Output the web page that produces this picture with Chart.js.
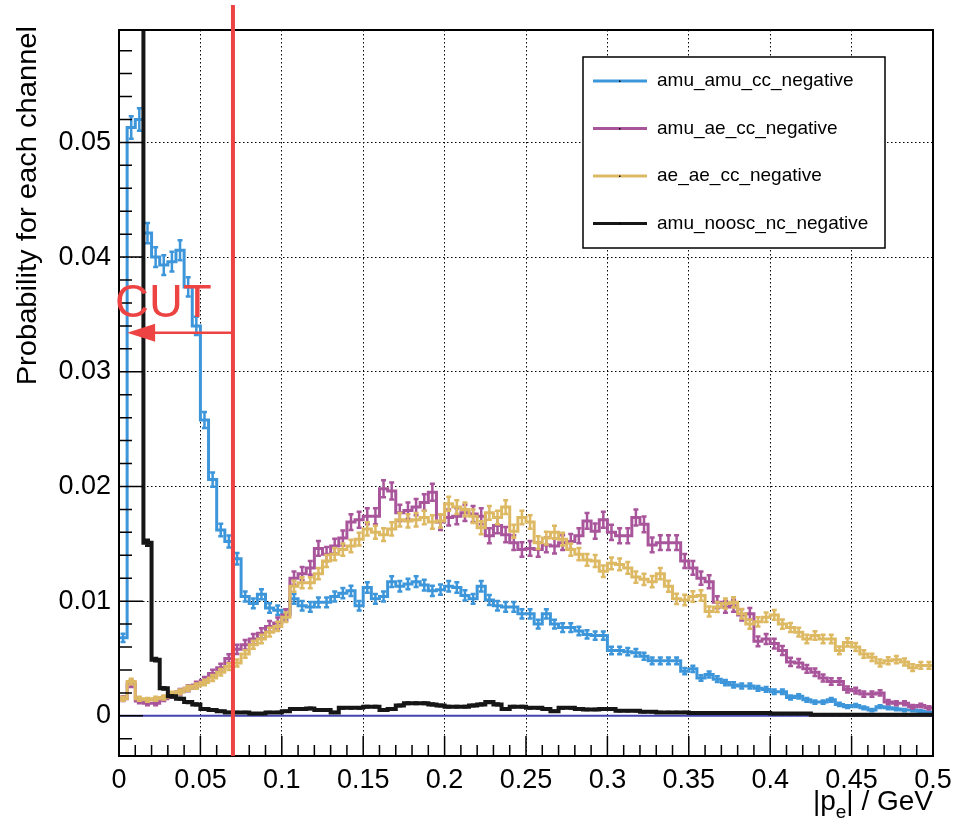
<!DOCTYPE html>
<html>
<head>
<meta charset="utf-8">
<script src="https://cdn.jsdelivr.net/npm/chart.js@4.4.1/dist/chart.umd.min.js"></script>
<style>
  html, body { margin: 0; padding: 0; background: #fff; }
</style>
</head>
<body>
<canvas id="mycanvas" width="968" height="825"></canvas>
<script>
// |p_e| histogram, 100 bins of 0.005 GeV from 0 to 0.5
var binWidth = 0.005;
var channels = ['amu_amu_cc_negative', 'amu_ae_cc_negative', 'ae_ae_cc_negative', 'amu_noosc_nc_negative'];
var channelColors = ['#3e96da', '#a9559b', '#deb964', '#161616'];
// effective event counts, used for the sqrt(N) error bars
var channelEvents = [54000, 36000, 50000, 220000];

var amuAmuCC = [
  0.0068, 0.0513, 0.0520, 0.0421, 0.0400, 0.0393, 0.0396, 0.0406, 0.0374, 0.0340,
  0.0258, 0.0206, 0.0162, 0.0152, 0.0137, 0.0104, 0.0098, 0.0106, 0.0094, 0.0092,
  0.0089, 0.0102, 0.0096, 0.0095, 0.0099, 0.0099, 0.0104, 0.0107, 0.0109, 0.0096,
  0.0112, 0.0102, 0.0104, 0.0117, 0.0113, 0.0115, 0.0117, 0.0114, 0.0109, 0.0110,
  0.0113, 0.0112, 0.0105, 0.0102, 0.0113, 0.0101, 0.0096, 0.0095, 0.0095, 0.0089,
  0.0089, 0.0080, 0.0089, 0.0080, 0.0077, 0.0077, 0.0074, 0.0071, 0.0070, 0.0070,
  0.0057, 0.0057, 0.0056, 0.0055, 0.0052, 0.0048, 0.0048, 0.0048, 0.0048, 0.0039,
  0.0041, 0.0033, 0.0036, 0.0032, 0.0029, 0.0027, 0.0026, 0.0026, 0.0024, 0.0023,
  0.0021, 0.0021, 0.0016, 0.0017, 0.0014, 0.0012, 0.0012, 0.0014, 0.0010, 0.0008,
  0.0009, 0.0007, 0.0005, 0.0008, 0.0007, 0.0006, 0.0005, 0.0005, 0.0004, 0.0003
];
var amuAeCC = [
  0.0015, 0.0028, 0.0013, 0.0011, 0.0011, 0.0015, 0.0018, 0.0021, 0.0024, 0.0027,
  0.0031, 0.0037, 0.0042, 0.0050, 0.0058, 0.0062, 0.0067, 0.0072, 0.0078, 0.0081,
  0.0088, 0.0120, 0.0124, 0.0129, 0.0146, 0.0141, 0.0148, 0.0155, 0.0169, 0.0171,
  0.0174, 0.0174, 0.0198, 0.0196, 0.0177, 0.0179, 0.0182, 0.0186, 0.0195, 0.0169,
  0.0173, 0.0174, 0.0177, 0.0176, 0.0174, 0.0157, 0.0166, 0.0158, 0.0151, 0.0145,
  0.0146, 0.0145, 0.0149, 0.0148, 0.0151, 0.0152, 0.0157, 0.0170, 0.0161, 0.0171,
  0.0160, 0.0157, 0.0157, 0.0173, 0.0167, 0.0149, 0.0151, 0.0151, 0.0151, 0.0135,
  0.0129, 0.0120, 0.0117, 0.0099, 0.0095, 0.0096, 0.0088, 0.0089, 0.0065, 0.0067,
  0.0063, 0.0057, 0.0047, 0.0046, 0.0041, 0.0038, 0.0033, 0.0030, 0.0030, 0.0023,
  0.0022, 0.0019, 0.0019, 0.0020, 0.0012, 0.0011, 0.0011, 0.0008, 0.0009, 0.0007
];
var aeAeCC = [
  0.0015, 0.0030, 0.0015, 0.0014, 0.0015, 0.0016, 0.0019, 0.0021, 0.0024, 0.0026,
  0.0029, 0.0033, 0.0038, 0.0043, 0.0046, 0.0054, 0.0062, 0.0067, 0.0073, 0.0078,
  0.0086, 0.0113, 0.0116, 0.0116, 0.0124, 0.0135, 0.0141, 0.0145, 0.0148, 0.0154,
  0.0163, 0.0160, 0.0158, 0.0163, 0.0171, 0.0170, 0.0171, 0.0173, 0.0169, 0.0170,
  0.0185, 0.0182, 0.0180, 0.0174, 0.0164, 0.0177, 0.0173, 0.0182, 0.0161, 0.0173,
  0.0169, 0.0151, 0.0155, 0.0160, 0.0154, 0.0145, 0.0141, 0.0136, 0.0135, 0.0126,
  0.0133, 0.0132, 0.0129, 0.0121, 0.0119, 0.0117, 0.0124, 0.0113, 0.0102, 0.0101,
  0.0104, 0.0105, 0.0091, 0.0095, 0.0098, 0.0099, 0.0089, 0.0080, 0.0082, 0.0086,
  0.0088, 0.0080, 0.0077, 0.0073, 0.0067, 0.0070, 0.0067, 0.0067, 0.0057, 0.0064,
  0.0060, 0.0054, 0.0051, 0.0046, 0.0048, 0.0049, 0.0047, 0.0042, 0.0044, 0.0044
];
var amuNooscNC = [
  0.1200, 0.1100, 0.0900, 0.0151, 0.0049, 0.0024, 0.0017, 0.0015, 0.0012, 0.0010,
  0.0006, 0.0005, 0.0004, 0.0003, 0.0003, 0.0003, 0.0002, 0.0002, 0.0003, 0.0003,
  0.0004, 0.0006, 0.0006, 0.00065, 0.0005, 0.0005, 0.0003, 0.0007, 0.0007, 0.0007,
  0.0008, 0.0008, 0.0005, 0.0006, 0.0009, 0.0011, 0.0011, 0.0011, 0.0010, 0.0009,
  0.0008, 0.0008, 0.0008, 0.0009, 0.0010, 0.0012, 0.0010, 0.0006, 0.0008, 0.0008,
  0.0007, 0.0007, 0.0006, 0.0004, 0.0007, 0.0007, 0.0006, 0.00055, 0.00055, 0.0006,
  0.0006, 0.00045, 0.00045, 0.00045, 0.00035, 0.00035, 0.0003, 0.0003, 0.0003, 0.0003,
  0.00025, 0.00025, 0.00025, 0.00025, 0.00025, 0.00025, 0.00025, 0.00025, 0.00025, 0.00025,
  0.0002, 0.0002, 0.0002, 0.0002, 0.0002, 0.0001, 0.0001, 0.0001, 0.0001, 0.0001,
  0.0001, 0.0001, 0.0001, 0.0001, 0.0001, 0.0001, 0.0001, 0.0001, 0.0001, 0.0001
];

var xTickValues = [0, 0.05, 0.1, 0.15, 0.2, 0.25, 0.3, 0.35, 0.4, 0.45, 0.5];
var yTickValues = [0, 0.01, 0.02, 0.03, 0.04, 0.05];
var xRange = [0, 0.5];
var yRange = [-0.0035, 0.0598];

// momentum cut
var cutValue = 0.07;
var cutArrowEnd = 0.005;
var cutArrowLevel = 0.0334;

var FONT = '"Liberation Sans", Arial, sans-serif';

function histPoints(vals) {
  var pts = [];
  for (var i = 0; i < vals.length; i++) pts.push({x: i * binWidth, y: vals[i]});
  pts.push({x: vals.length * binWidth, y: vals[vals.length - 1]});
  return pts;
}

function statErrors(vals, n) {
  return vals.map(function (v) { return Math.sqrt(Math.max(v, 0) / n); });
}

var series = [amuAmuCC, amuAeCC, aeAeCC, amuNooscNC];
var datasets = [];
for (var s = 0; s < series.length; s++) {
  datasets.push({
    label: channels[s],
    data: histPoints(series[s]),
    values: series[s],
    errors: statErrors(series[s], channelEvents[s]),
    borderColor: channelColors[s],
    borderWidth: s === 3 ? 4 : 3,
    stepped: true,
    pointRadius: 0,
    fill: false,
    order: 4 - s
  });
}
// zero line
datasets.push({
  label: 'zero',
  data: [{x: xRange[0], y: 0}, {x: xRange[1], y: 0}],
  borderColor: '#4444b0',
  borderWidth: 2,
  pointRadius: 0,
  order: 10
});

var histErrors = {
  id: 'histErrors',
  afterDatasetDraw: function (chart, args) {
    var ds = chart.data.datasets[args.index];
    if (!ds.errors) return;
    var xs = chart.scales.x, ys = chart.scales.y, ctx = chart.ctx, a = chart.chartArea;
    var cap = 2.5;
    ctx.save();
    ctx.beginPath();
    ctx.rect(a.left, a.top, a.right - a.left, a.bottom - a.top);
    ctx.clip();
    ctx.strokeStyle = ds.borderColor;
    ctx.lineWidth = 2.5;
    ctx.beginPath();
    for (var i = 0; i < ds.values.length; i++) {
      var cx = xs.getPixelForValue((i + 0.5) * binWidth);
      var lo = ys.getPixelForValue(ds.values[i] - ds.errors[i]);
      var hi = ys.getPixelForValue(ds.values[i] + ds.errors[i]);
      ctx.moveTo(cx, lo); ctx.lineTo(cx, hi);
      ctx.moveTo(cx - cap, lo); ctx.lineTo(cx + cap, lo);
      ctx.moveTo(cx - cap, hi); ctx.lineTo(cx + cap, hi);
    }
    ctx.stroke();
    ctx.restore();
  }
};

// frame and inward tick marks
var frameTicks = {
  id: 'frameTicks',
  afterDatasetsDraw: function (chart) {
    var xs = chart.scales.x, ys = chart.scales.y, ctx = chart.ctx, a = chart.chartArea;
    ctx.save();
    ctx.strokeStyle = '#000';
    ctx.lineWidth = 1.5;
    ctx.beginPath();
    var yStep = (yTickValues[1] - yTickValues[0]) / 5;
    for (var k = Math.ceil(ys.min / yStep - 1e-6); k * yStep <= ys.max + 1e-9; k++) {
      var py = ys.getPixelForValue(k * yStep);
      var len = (k % 5 === 0) ? 24 : 13;
      ctx.moveTo(a.left, py); ctx.lineTo(a.left + len, py);
    }
    var xStep = (xTickValues[1] - xTickValues[0]) / 5;
    for (var j = Math.ceil(xs.min / xStep - 1e-6); j * xStep <= xs.max + 1e-9; j++) {
      var px = xs.getPixelForValue(j * xStep);
      var lenx = (j % 5 === 0) ? 20 : 11;
      ctx.moveTo(px, a.bottom); ctx.lineTo(px, a.bottom - lenx);
    }
    ctx.stroke();
    ctx.lineWidth = 2;
    ctx.strokeRect(a.left, a.top, a.right - a.left, a.bottom - a.top);
    ctx.restore();
  }
};

var annotations = {
  id: 'annotations',
  afterDraw: function (chart) {
    var xs = chart.scales.x, ys = chart.scales.y, ctx = chart.ctx, a = chart.chartArea;
    ctx.save();

    // cut line with arrow
    var cx = xs.getPixelForValue(cutValue);
    ctx.strokeStyle = '#ee4343';
    ctx.fillStyle = '#ee4343';
    ctx.lineWidth = 4;
    ctx.beginPath();
    ctx.moveTo(cx, 5); ctx.lineTo(cx, a.bottom);
    ctx.stroke();
    var ay = ys.getPixelForValue(cutArrowLevel);
    var ax = xs.getPixelForValue(cutArrowEnd);
    ctx.lineWidth = 2.5;
    ctx.beginPath();
    ctx.moveTo(cx, ay); ctx.lineTo(ax + 20, ay);
    ctx.stroke();
    ctx.beginPath();
    ctx.moveTo(ax, ay); ctx.lineTo(ax + 28, ay - 9); ctx.lineTo(ax + 28, ay + 9);
    ctx.closePath();
    ctx.fill();
    ctx.font = '47px ' + FONT;
    ctx.textAlign = 'left';
    ctx.textBaseline = 'alphabetic';
    ctx.fillText('CUT', a.left - 4, ay - 16);

    // legend box
    var lx = 583, ly = 57, lw = 302, lh = 191;
    ctx.fillStyle = '#fff';
    ctx.fillRect(lx, ly, lw, lh);
    ctx.strokeStyle = '#000';
    ctx.lineWidth = 1.5;
    ctx.strokeRect(lx, ly, lw, lh);
    ctx.font = '19px ' + FONT;
    ctx.textBaseline = 'middle';
    for (var i = 0; i < channels.length; i++) {
      var yy = ly + 24 + i * 47.5;
      ctx.strokeStyle = channelColors[i];
      ctx.lineWidth = 3;
      ctx.beginPath();
      ctx.moveTo(lx + 10, yy); ctx.lineTo(lx + 64, yy);
      ctx.stroke();
      ctx.fillStyle = '#000';
      ctx.fillRect(lx + 36, yy - 0.5, 1.5, 1.5);
      ctx.fillText(channels[i], lx + 74, yy);
    }

    // axis titles
    ctx.fillStyle = '#000';
    ctx.font = '28px ' + FONT;
    ctx.save();
    ctx.translate(28, a.top - 4);
    ctx.rotate(-Math.PI / 2);
    ctx.scale(1.04, 1);
    ctx.textAlign = 'right';
    ctx.textBaseline = 'middle';
    ctx.fillText('Probability for each channel', 0, 0);
    ctx.restore();

    ctx.textAlign = 'left';
    ctx.textBaseline = 'alphabetic';
    var tail = '| / GeV';
    var base = 810;
    ctx.font = '28px ' + FONT;
    var wTail = ctx.measureText(tail).width;
    ctx.font = '19px ' + FONT;
    var wSub = ctx.measureText('e').width;
    ctx.font = '28px ' + FONT;
    var wHead = ctx.measureText('|p').width;
    var x0 = a.right - wTail - wSub - wHead;
    ctx.fillText('|p', x0, base);
    ctx.font = '19px ' + FONT;
    ctx.fillText('e', x0 + wHead, base + 8);
    ctx.font = '28px ' + FONT;
    ctx.fillText(tail, x0 + wHead + wSub, base);

    ctx.restore();
  }
};

var whiteBg = {
  id: 'whiteBg',
  beforeDraw: function (chart) {
    var ctx = chart.ctx;
    ctx.save();
    ctx.fillStyle = '#fff';
    ctx.fillRect(0, 0, chart.width, chart.height);
    ctx.restore();
  }
};

var ctx = document.getElementById('mycanvas');
var histChart = new Chart(ctx, {
  type: 'line',
  data: { datasets: datasets },
  options: {
    responsive: false,
    animation: false,
    devicePixelRatio: 1,
    layout: { padding: { left: 0, right: 35, top: 30, bottom: 0 } },
    plugins: { legend: { display: false }, tooltip: { enabled: false } },
    elements: { line: { tension: 0 } },
    scales: {
      x: {
        type: 'linear',
        min: xRange[0],
        max: xRange[1],
        afterBuildTicks: function (scale) {
          scale.ticks = xTickValues.map(function (v) { return {value: v}; });
        },
        afterFit: function (scale) { scale.height = 69; },
        border: { display: false, dash: [1.5, 2.5] },
        grid: { color: '#000', lineWidth: 1, drawTicks: false },
        ticks: {
          autoSkip: false,
          maxRotation: 0,
          padding: 8,
          color: '#000',
          font: { family: FONT, size: 27 },
          callback: function (v) { return String(+v.toFixed(3)); }
        }
      },
      y: {
        type: 'linear',
        min: yRange[0],
        max: yRange[1],
        afterBuildTicks: function (scale) {
          scale.ticks = yTickValues.map(function (v) { return {value: v}; });
        },
        afterFit: function (scale) { scale.width = 119; },
        border: { display: false, dash: [1.5, 2.5] },
        grid: { color: '#000', lineWidth: 1, drawTicks: false },
        ticks: {
          padding: 8,
          color: '#000',
          font: { family: FONT, size: 27 },
          callback: function (v) { return String(+v.toFixed(3)); }
        }
      }
    }
  },
  plugins: [whiteBg, histErrors, frameTicks, annotations]
});
</script>
</body>
</html>
